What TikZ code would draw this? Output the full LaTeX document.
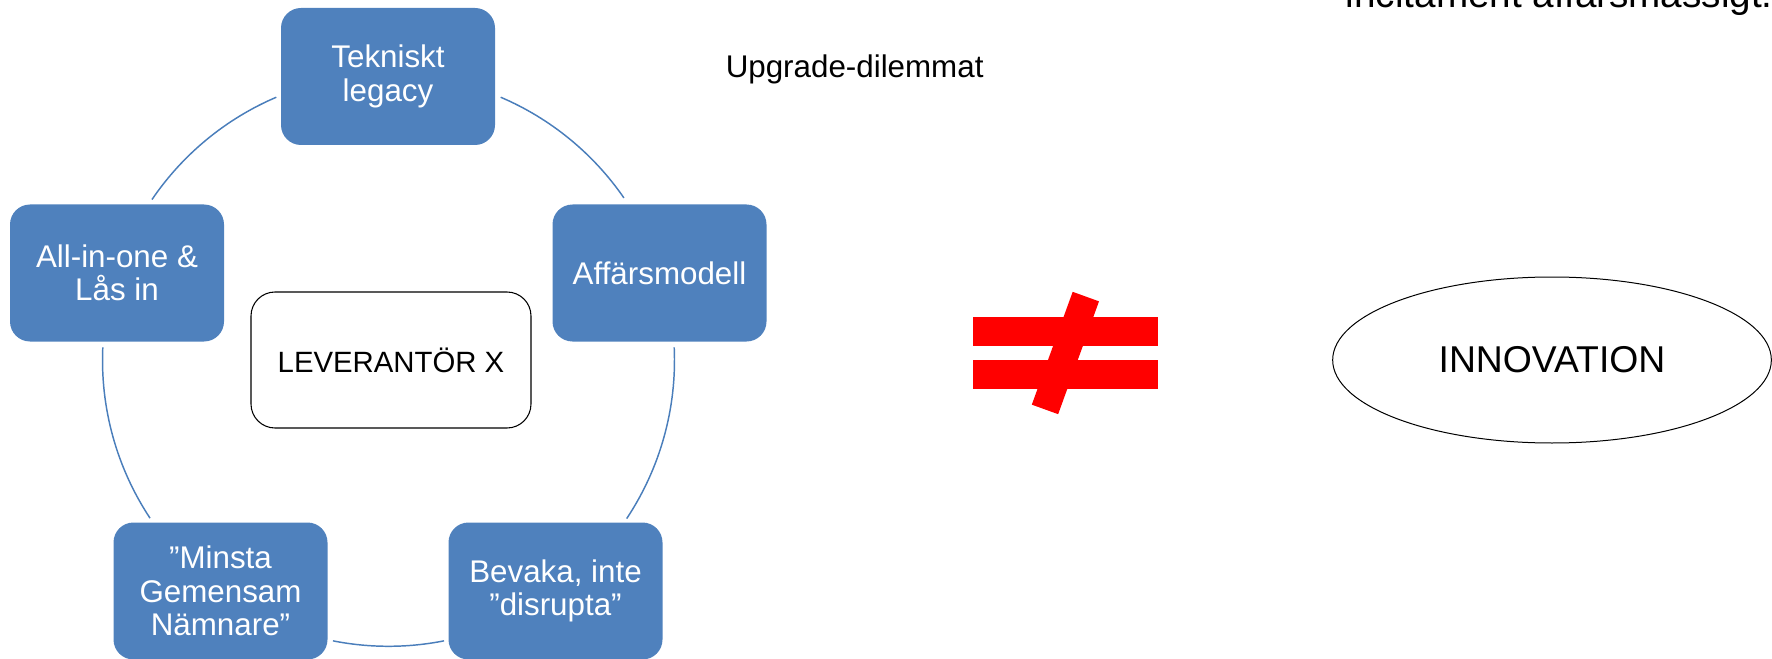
\documentclass[tikz,border=0pt]{standalone}
\usepackage{fontspec}
\setmainfont{Liberation Sans}
\usetikzlibrary{shapes.geometric}
\definecolor{boxblue}{HTML}{4F81BD}
\definecolor{ringblue}{HTML}{4A7EBB}
\definecolor{neqred}{HTML}{FF0000}
\begin{document}
\begin{tikzpicture}[x=0.75pt,y=-0.75pt,
  cyclebox/.style={fill=boxblue, rounded corners=15pt, minimum width=160.5pt,
    minimum height=102.75pt, inner sep=0pt, text=white, align=center,
    font=\fontsize{23.5}{25}\selectfont},
  ring/.style={draw=ringblue, line width=1.1pt},
  plaintext/.style={inner sep=0pt, anchor=base west},
]
\useasboundingbox (0,0) rectangle (1772,659);
\clip (0,0) rectangle (1772,659);

% centre of the cycle
\coordinate (ctr) at (388.5,360.3);

% the five stages of the cycle
\node[cyclebox] (tek) at (388,76.5) {Tekniskt\\legacy};
\node[cyclebox] (aff) at (659.5,273) {Affärsmodell};
\node[cyclebox] (bev) at (555.5,591) {Bevaka, inte\\”disrupta”};
\node[cyclebox] (min) at (220.5,591) {”Minsta\\Gemensam\\Nämnare”};
\node[cyclebox] (all) at (117,273) {All-in-one \&\\Lås in};

% ring segments between the stages
\draw[ring] (ctr) ++(-66.9:286) coordinate (tekR)
  arc[start angle=-66.9, end angle=-34.6, radius=286] coordinate (affT);
\draw[ring] (ctr) ++(-2.6:286) coordinate (affB)
  arc[start angle=-2.6, end angle=33.6, radius=286] coordinate (bevT);
\draw[ring] (ctr) ++(78.8:286) coordinate (bevL)
  arc[start angle=78.8, end angle=101.2, radius=286] coordinate (minR);
\draw[ring] (ctr) ++(146.5:286) coordinate (minT)
  arc[start angle=146.5, end angle=182.6, radius=286] coordinate (allB);
\draw[ring] (ctr) ++(-145.8:286) coordinate (allT)
  arc[start angle=-145.8, end angle=-113.1, radius=286] coordinate (tekL);

% supplier in the middle
\node[draw=black, line width=0.8pt, rounded corners=18pt, minimum width=210pt,
  minimum height=102pt, inner sep=0pt, font=\fontsize{22}{24}\selectfont]
  (lev) at (391,360) {LEVERANTÖR X};

% captions
\node[plaintext, font=\fontsize{23.5}{25}\selectfont] (upg) at (725.5,77.3) {Upgrade-dilemmat};
\node[plaintext, font=\fontsize{29}{32}\selectfont] (inc) at (1345.5,7.5) {incitament affärsmässigt.};

% not-equal sign
\fill[neqred] (973,317) rectangle (1158,346);
\fill[neqred] (973,360) rectangle (1158,389);
\node[fill=neqred, minimum width=90pt, minimum height=21pt, inner sep=0pt,
  rotate=70.1] (slash) at (1065.4,353) {};

% innovation
\node[ellipse, draw=black, line width=0.75pt, minimum width=329pt,
  minimum height=124.5pt, inner sep=0pt, font=\fontsize{28}{30}\selectfont]
  (inno) at (1552,360) {INNOVATION};
\end{tikzpicture}
\end{document}
